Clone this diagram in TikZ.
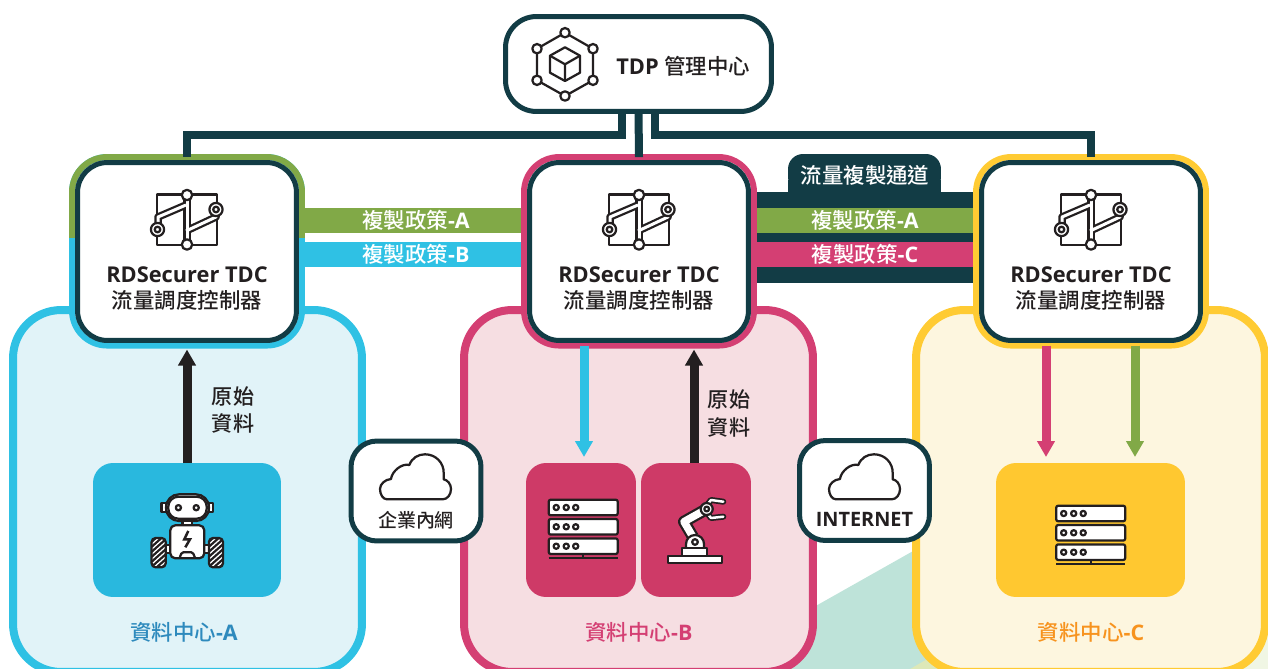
\documentclass[tikz,border=0pt]{standalone}
\usepackage{fontspec}
\usepackage{xcolor}
\usetikzlibrary{arrows.meta}
\setmainfont{Open Sans}
\newfontfamily\cjk{Noto Sans CJK TC}[BoldFont={Noto Sans CJK TC Medium}]
\definecolor{tealdark}{HTML}{123C45}
\definecolor{inkdark}{HTML}{231F20}
\definecolor{cyanline}{HTML}{2FC1E4}
\definecolor{pinkline}{HTML}{D43F73}
\definecolor{yellowline}{HTML}{FFCB33}
\definecolor{greenline}{HTML}{81A947}
\definecolor{cyansoft}{HTML}{E1F3F8}
\definecolor{pinksoft}{HTML}{F6DEE2}
\definecolor{yellowsoft}{HTML}{FDF6DF}
\definecolor{cyanbox}{HTML}{29B8DE}
\definecolor{pinkbox}{HTML}{CE3A67}
\definecolor{yellowbox}{HTML}{FFC830}
\definecolor{tealback}{HTML}{BEE3D9}
\definecolor{limeback}{HTML}{DDE8B8}
\definecolor{paleback}{HTML}{F0F6E4}
\definecolor{cyanlabel}{HTML}{2E8ABD}
\definecolor{orangelabel}{HTML}{F7931E}
\tikzset{
  whitebox/.style={draw=tealdark, fill=white, line width=0.1cm, inner sep=0, outer sep=0},
  tdpbox/.style={whitebox, minimum width=5.32cm, minimum height=1.9cm, rounded corners=0.62cm},
  tdcbox/.style={whitebox, minimum width=4.38cm, minimum height=3.56cm, rounded corners=0.6cm},
  netbox/.style={whitebox, minimum width=2.6cm, minimum height=2cm, rounded corners=0.52cm},
  tdcring/.style={line width=0.12cm, inner sep=0, outer sep=0, minimum width=4.6cm, minimum height=3.77cm, rounded corners=0.7cm},
  dcbox/.style={line width=0.16cm, inner sep=0, outer sep=0, minimum width=6.98cm, minimum height=7.24cm, rounded corners=0.96cm},
  srcbox/.style={inner sep=0, outer sep=0, minimum height=2.68cm, rounded corners=0.4cm},
  trunk/.style={draw=tealdark, line width=0.16cm},
  band/.style={line width=0.5cm, shorten >=0.06cm, shorten <=0.06cm},
  bandtext/.style={text=white, font=\fontsize{12.2}{14}\selectfont\bfseries, inner sep=0},
  boxtext/.style={text=inkdark, align=center, font=\fontsize{12.4}{14.8}\selectfont\bfseries, inner sep=0},
  dctext/.style={font=\fontsize{12.2}{14}\selectfont\bfseries, inner sep=0},
  flow/.style={line width=0.18cm, -{Triangle[width=0.34cm,length=0.32cm]}},
  ico/.style={draw=inkdark, line width=0.045cm, line join=round},
  servericon/.pic={
    \foreach \ry in {-21.5,-2.2,17.2}{
      \draw[ico, fill=white, rounded corners=0.04cm] (-34.5,\ry-7.8) rectangle (34.5,\ry+7.8);
      \foreach \rx in {-27,-17,-7.5}
        \draw[ico, fill=white] (\rx,\ry) circle (2.6);
    }
    \draw[ico] (0,25) -- (0,29);
    \draw[ico, line width=0.05cm] (-34.5,29) -- (34.5,29);
  },
  hexicon/.pic={
    \draw[ico] (0,-31.6) -- (28,-15.6) -- (28,16) -- (0,31.7) -- (-28,16) -- (-28,-15.6) -- cycle;
    \foreach \hx/\hy in {0/-31.6,28/-15.6,28/16,0/31.7,-28/16,-28/-15.6}
      \draw[ico, fill=white] (\hx,\hy) circle (4.7);
    \draw[ico] (0,-17) -- (15,-8.6) -- (15,8.4) -- (0,16.7) -- (-15,8.4) -- (-15,-8.6) -- cycle;
    \draw[ico] (-15,-8.6) -- (0,0) -- (15,-8.6) (0,0) -- (0,16.7);
  },
  circuiticon/.pic={
    \draw[ico] (-30,-25.5) rectangle (30,25);
    \draw[inkdark, line width=0.15cm, line join=round] (-29,9.5) -- (-29,-3) -- (-1,-15);
    \draw[inkdark, line width=0.15cm, line join=round] (29,-10.5) -- (29,-3) -- (-1,11);
    \draw[inkdark, line width=0.15cm] (0,-25) -- (0,24.5);
    \draw[white, line width=0.06cm, line join=round] (-29,9.5) -- (-29,-3) -- (-1,-15);
    \draw[white, line width=0.06cm, line join=round] (29,-10.5) -- (29,-3) -- (-1,11);
    \draw[white, line width=0.06cm] (0,-25) -- (0,24.5);
    \foreach \cy in {-25,24.5}
      \draw[ico, fill=white] (0,\cy) circle (5.2);
    \foreach \cx/\cy in {-29.5/9.5,29/-10.5}{
      \draw[ico, fill=white] (\cx,\cy) circle (6.6);
      \draw[ico, fill=white] (\cx,\cy) circle (2.8);
    }
  },
  roboticon/.pic={
    \foreach \sx in {-1,1}{
      \draw[ico, fill=white] (\sx*21.5,-27) rectangle (\sx*25.8,-18);
      \draw[ico, fill=white] (\sx*17,15) rectangle (\sx*22,22.7);
      \begin{scope}
        \path[clip, rounded corners=0.08cm] (\sx*21.6,8) rectangle (\sx*35.7,37.3);
        \fill[inkdark] (\sx*21.6,8) rectangle (\sx*35.7,37.3);
        \foreach \hy in {6,11,...,46}
          \draw[white, line width=0.025cm] (\sx*28.6-9,\hy) -- (\sx*28.6+9,\hy-16);
      \end{scope}
      \draw[ico, rounded corners=0.08cm] (\sx*21.6,8) rectangle (\sx*35.7,37.3);
    }
    \draw[ico, fill=white, rounded corners=0.26cm] (-21.3,-35.7) rectangle (21.7,-9);
    \draw[ico, fill=white, rounded corners=0.2cm] (-19,-33.3) rectangle (19.4,-11.3);
    \foreach \sx in {-8.9,8.9}
      \draw[ico, fill=white] (\sx,-22.3) circle (2.6);
    \draw[ico, fill=white] (-4.7,-9) rectangle (4.7,-4.7);
    \draw[ico, fill=white, rounded corners=0.1cm] (-17,28.3) -- (-17,-4.7) -- (17,-4.7) -- (17,28.3) -- cycle;
    \draw[ico, line join=miter, line width=0.05cm] (1,1) -- (-3,9.3) -- (2.7,9.3) -- (-2,17.3);
    \draw[ico, rounded corners=0.03cm] (-7.5,27.3) -- (-5.5,22.3) -- (5.5,22.3) -- (7.5,27.3);
  },
  armicon/.pic={
    \draw[inkdark, line width=0.24cm, line join=round] (-2,7) -- (-11,-8.3) -- (11.7,-21);
    \draw[white, line width=0.15cm, line join=round] (-2,7) -- (-11,-8.3) -- (11.7,-21);
    \foreach \fy/\gy/\hy in {-25/-30/-28.3,-17/-12/-13.3}{
      \draw[inkdark, line width=0.12cm, line cap=round, line join=round] (12,\fy) -- (16,\gy) -- (28.3,\hy);
      \draw[white, line width=0.05cm, line cap=round, line join=round] (12,\fy) -- (16,\gy) -- (28.3,\hy);
    }
    \draw[ico, fill=white] (11.7,-21) circle (6);
    \draw[ico, fill=white] (11.7,-21) circle (2.4);
    \draw[ico, fill=white] (-9,18.3) -- (-9,14) .. controls (-9,9) and (-5,5) .. (0,5) .. controls (5,5) and (9,9) .. (9,14) -- (9,18.3) -- cycle;
    \draw[ico, fill=white] (0,12) circle (2.8);
    \draw[ico, fill=white] (-12.7,18.3) rectangle (12.3,25.7);
    \draw[ico, fill=white] (-27.3,25.7) rectangle (27,33);
  },
  cloudicon/.pic={
    \draw[ico] (-28.5,22.3) .. controls (-32.5,22.3) and (-35.5,17.5) .. (-35.5,12)
      .. controls (-35.5,7) and (-30.5,2.5) .. (-24.5,2)
      .. controls (-23.5,-6) and (-13.5,-14) .. (-6.2,-12)
      .. controls (-3.5,-19) and (2.5,-22.7) .. (9.5,-22.7)
      .. controls (20.5,-22.7) and (28.5,-14) .. (28.2,-3.7) -- (28.2,2.3)
      .. controls (32,3) and (35.5,7) .. (35.5,12)
      .. controls (35.5,17.5) and (32,22.3) .. (27.2,22.3) -- cycle;
  },
}
\begin{document}
\begin{tikzpicture}[x=0.02cm, y=-0.02cm]
    \path[use as bounding box, clip] (0,0) rectangle (1268,669);
    % Fundo
    \fill[tealback] (704,669) -- (1000,502) -- (1000,669) -- cycle;
    \fill[limeback] (905,672) -- (960,640) -- (1010,672) -- cycle;
    \fill[paleback] (1230,669) -- (1268,630) -- (1268,669) -- cycle;
    % Centros de dados
    \node[dcbox, draw=cyanline, fill=cyansoft] (dcA) at (187.5,491) {};
    \node[dcbox, draw=pinkline, fill=pinksoft] (dcB) at (638.5,491) {};
    \node[dcbox, draw=yellowline, fill=yellowsoft] (dcC) at (1090.5,491) {};
    \node[dctext, text=cyanlabel] (nameA) at (184,632) {{\cjk 資料中心}-A};
    \node[dctext, text=pinkline] (nameB) at (639,632) {{\cjk 資料中心}-B};
    \node[dctext, text=orangelabel] (nameC) at (1091,632) {{\cjk 資料中心}-C};
    % Aneis
    \node[tdcring, draw=cyanline, fill=white] (ringA) at (187,251.3) {};
    \begin{scope}
      \clip (60,150) rectangle (320,237);
      \node[tdcring, draw=greenline] at (187,251.3) {};
    \end{scope}
    \node[tdcring, draw=pinkline, fill=white] (ringB) at (639,251.3) {};
    \node[tdcring, draw=yellowline, fill=white] (ringC) at (1091,251.3) {};
    % Canais
    \fill[tealdark] ([xshift=0.06cm]ringB.east |- 0,192) rectangle ([xshift=-0.06cm]ringC.west |- 0,283);
    \node[fill=tealdark, minimum width=3.06cm, minimum height=0.76cm, inner sep=0, outer sep=0,
      rounded corners=0.3cm] (tab) at (864.5,173) {};
    \fill[tealdark] (788,180) rectangle (941,192);
    \node[bandtext] (tabtext) at (865,175) {\cjk 流量複製通道};
    \draw[band, greenline] (ringA.east |- 0,220.5) -- (ringB.west |- 0,220.5) node[midway, bandtext, xshift=0.06cm] (polAB) {{\cjk 複製政策}-A};
    \draw[band, cyanline] (ringA.east |- 0,254.5) -- (ringB.west |- 0,254.5) node[midway, bandtext, xshift=0.06cm] (polBA) {{\cjk 複製政策}-B};
    \draw[band, greenline] (ringB.east |- 0,220.5) -- (ringC.west |- 0,220.5) node[midway, bandtext] (polAC) {{\cjk 複製政策}-A};
    \draw[band, pinkline] (ringB.east |- 0,254.5) -- (ringC.west |- 0,254.5) node[midway, bandtext] (polCB) {{\cjk 複製政策}-C};
    % Controladores
    \node[tdcbox] (tdcA) at (187,251.5) {};
    \node[tdcbox] (tdcB) at (639,251.5) {};
    \node[tdcbox] (tdcC) at (1091,251.5) {};
    \foreach \tx/\tn in {187/A,639/B,1091/C}{
      \pic at (\tx,220) {circuiticon};
      \node[boxtext] (text\tn) at (\tx,288.5) {RDSecurer TDC\\[0.5pt]{\cjk\fontsize{12.2}{14.8}\selectfont 流量調度控制器}};
    }
    % Gerencia
    \node[tdpbox] (tdp) at (638.5,64) {};
    \pic at (565,64.3) {hexicon};
    \node[boxtext, anchor=west] (tdptext) at (616,66) {TDP {\cjk\fontsize{12.2}{14.8}\selectfont 管理中心}};
    \coordinate (tdpL) at (622,114);
    \coordinate (tdpR) at (655,114);
    \draw[trunk] (tdpL) -- ++(0,21) -| (ringA.north);
    \draw[trunk] (tdpR) -- ++(0,21) -| (ringC.north);
    \draw[trunk] (tdp.south) -- (ringB.north);
    % Origens
    \node[srcbox, fill=cyanbox, minimum width=3.76cm] (srcA) at (187,530) {};
    \node[srcbox, fill=pinkbox, minimum width=2.2cm] (srvB) at (581,530) {};
    \node[srcbox, fill=pinkbox, minimum width=2.2cm] (armB) at (696,530) {};
    \node[srcbox, fill=yellowbox, minimum width=3.78cm] (srvC) at (1090.5,530) {};
    \pic at (187.3,530) {roboticon};
    \pic at (583.2,529) {servericon};
    \pic at (695,530) {armicon};
    \pic at (1090.7,535) {servericon};
    % Fluxos
    \draw[flow, inkdark, shorten >=0.08cm] (srcA.north) -- (ringA.south);
    \draw[flow, inkdark, shorten >=0.08cm] (694,0 |- armB.north) -- (694,0 |- ringB.south);
    \draw[flow, cyanline, shorten >=0.12cm] (584,0 |- ringB.south) -- (584,0 |- srvB.north);
    \draw[flow, pinkline, shorten >=0.12cm] (1046,0 |- ringC.south) -- (1046,0 |- srvC.north);
    \draw[flow, greenline, shorten >=0.12cm] (1135,0 |- ringC.south) -- (1135,0 |- srvC.north);
    \node[boxtext, font=\fontsize{12}{15.4}\selectfont\bfseries] (rawA) at (233,410) {\cjk 原始\\\cjk 資料};
    \node[boxtext, font=\fontsize{12}{15.4}\selectfont\bfseries] (rawB) at (729,413.5) {\cjk 原始\\\cjk 資料};
    % Redes
    \node[netbox] (lan) at (416,491) {};
    \node[netbox] (wan) at (864.5,490.5) {};
    \pic at (415.5,477) {cloudicon};
    \pic at (864.5,477) {cloudicon};
    \node[boxtext, font=\fontsize{10.8}{13}\selectfont\bfseries] (lantext) at (416,520) {\cjk 企業內網};
    \node[boxtext, font=\fontsize{11.3}{13}\selectfont\bfseries] (wantext) at (864.5,519) {INTERNET};
\end{tikzpicture}
\end{document}
